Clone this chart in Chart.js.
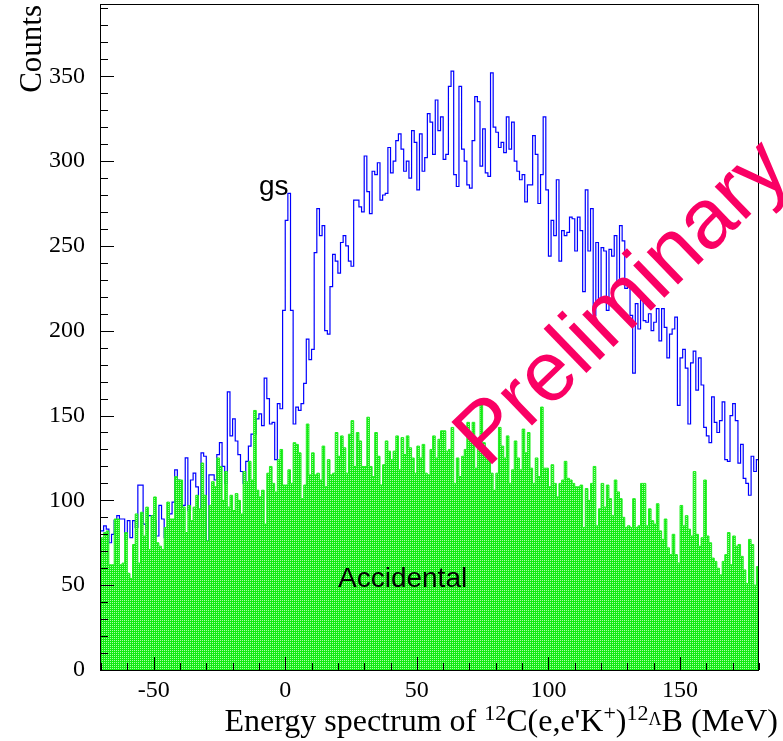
<!DOCTYPE html>
<html><head><meta charset="utf-8">
<style>html,body{margin:0;padding:0;background:#fff;overflow:hidden}canvas{display:block}</style>
<script src="https://cdn.jsdelivr.net/npm/chart.js@4.4.0/dist/chart.umd.min.js"></script>
</head><body>
<canvas id="c" width="783" height="741"></canvas>
<script>
// ---- data (1 MeV bins, low edges from -70 MeV) ----
const energyStart = -70;
const energyEnd = 180;
const binWidth = 1;
const totalCounts = [
 82, 85, 83, 75, 80, 88, 91, 89, 89, 77, 88, 78, 88, 84, 109, 109, 86, 83, 91, 91, 88, 79, 97, 89, 78, 70, 92, 99, 118, 112, 87, 97, 125, 94, 112, 116, 108, 85, 128, 126, 76, 115,
 115, 112, 127, 134, 120, 110, 164, 138, 148, 135, 127, 117, 110, 123, 132, 139, 139, 148, 151, 144, 172, 160, 145, 146, 124, 157, 154, 212, 265, 281, 212, 145, 155, 153, 157, 169, 195, 183, 189, 246, 272, 256,
 262, 200, 198, 226, 245, 241, 234, 252, 256, 250, 241, 238, 277, 277, 273, 270, 303, 282, 269, 294, 292, 299, 277, 280, 281, 308, 293, 300, 312, 316, 307, 294, 300, 290, 318, 311, 283, 316, 294, 302, 328, 323,
 304, 336, 318, 326, 301, 304, 344, 353, 292, 285, 344, 307, 300, 286, 284, 312, 338, 335, 297, 319, 293, 291, 352, 320, 317, 308, 311, 305, 326, 307, 323, 300, 294, 289, 292, 276, 286, 286, 315, 304, 275,
 292, 326, 283, 244, 265, 256, 289, 241, 259, 256, 258, 267, 266, 247, 267, 259, 223, 283, 247, 272, 209, 252, 218, 249, 247, 212, 248, 244, 256, 228, 262, 253, 225, 229, 209, 175, 216, 201, 221, 206, 205,
 210, 200,
 205, 213, 194, 213, 202, 184, 198, 201, 208, 156, 184, 189, 178, 145, 181, 188, 165, 184, 168, 143, 138, 134, 161, 146, 140, 147, 158, 124, 123, 150, 157, 147, 122, 133, 113, 110, 103, 126, 117, 124
];
const accidentalCounts = [
 78, 81, 82, 62, 62, 89, 89, 62, 63, 81, 57, 54, 74, 92, 63, 93, 79, 96, 71, 91, 102, 75, 73, 71, 84, 99, 89, 89, 114, 112, 112, 96, 81, 97, 88, 96, 103, 95, 122, 103, 76, 97,
 111, 108, 125, 120, 100, 117, 96, 103, 94, 104, 100, 92, 117, 111, 123, 112, 153, 106, 102, 106, 86, 116, 120, 110, 105, 124, 130, 109, 109, 118, 110, 134, 133, 128, 101, 109, 145, 115, 128, 115, 116, 112,
 132, 108, 124, 115, 116, 140, 126, 138, 131, 116, 139, 147, 120, 140, 135, 120, 120, 149, 120, 114, 140, 126, 109, 121, 135, 129, 124, 129, 138, 118, 137, 127, 138, 131, 125, 116, 132, 125, 133, 116, 115, 130,
 138, 125, 136, 141, 141, 129, 130, 143, 110, 125, 114, 126, 130, 146, 136, 146, 119, 136, 159, 134, 130, 126, 116, 106, 116, 143, 132, 125, 138, 110, 118, 135, 125, 118, 142, 128, 140, 119, 110, 125, 114,
 155, 119, 119, 108, 121, 110, 102, 110, 112, 123, 113, 112, 110, 108, 108, 109, 84, 107, 100, 110, 120, 85, 95, 110, 96, 109, 101, 91, 112, 105, 101, 90, 84, 85, 84, 101, 84, 85, 110, 110, 85,
 95, 88,
 86, 98, 82, 77, 89, 72, 68, 80, 68, 63, 97, 85, 91, 83, 79, 117, 80, 73, 78, 112, 79, 75, 66, 64, 60, 56, 64, 68, 81, 62, 79, 73, 74, 67, 59, 51, 77, 74, 50, 61
];
const xTickLabels = [-50, 0, 50, 100, 150];
const yTickLabels = [0, 50, 100, 150, 200, 250, 300, 350];
const yMax = 392;

// ---- build step-histogram point lists ----
function histPoints(vals, closeToZero) {
  const pts = vals.map((v, i) => ({x: energyStart + i * binWidth, y: v}));
  pts.push({x: energyEnd, y: vals[vals.length - 1]});
  if (closeToZero) pts.push({x: energyEnd, y: 0});
  return pts;
}

// green dotted fill pattern
const pc = document.createElement('canvas'); pc.width = 2; pc.height = 2;
const pg = pc.getContext('2d');
pg.fillStyle = '#14ea14'; pg.fillRect(0, 0, 2, 2);
pg.fillStyle = '#a8ffa8'; pg.fillRect(0, 0, 1, 1);
const canvas = document.getElementById('c');
const ctx0 = canvas.getContext('2d');
const greenPattern = ctx0.createPattern(pc, 'repeat');

const serif = '"Liberation Serif", "Times New Roman", serif';
const sans = '"Liberation Sans", Arial, sans-serif';

function noPad(s) { s.paddingTop = 0; s.paddingBottom = 0; s.paddingLeft = 0; s.paddingRight = 0; }

const deco = {
  id: 'deco',
  afterDatasetsDraw(chart) {
    const {ctx, chartArea: a, scales: {x, y}} = chart;
    ctx.save();
    ctx.strokeStyle = '#000'; ctx.lineWidth = 1;
    ctx.beginPath();
    for (let v = energyStart; v <= energyEnd; v += 10) {
      const px = Math.round(x.getPixelForValue(v)) + 0.5;
      const len = (v % 50 === 0) ? 13 : 7;
      ctx.moveTo(px, a.bottom); ctx.lineTo(px, a.bottom - len);
    }
    for (let v = 0; v <= yMax; v += 10) {
      const py = Math.round(y.getPixelForValue(v)) + 0.5;
      const len = (v % 50 === 0) ? 13 : 7;
      ctx.moveTo(a.left, py); ctx.lineTo(a.left + len, py);
    }
    ctx.stroke();
    ctx.strokeRect(Math.round(a.left) - 0.5, Math.round(a.top) - 0.5, Math.round(a.right - a.left), Math.round(a.bottom - a.top) + 1);

    // annotations
    ctx.fillStyle = '#000';
    ctx.font = '28px ' + sans;
    ctx.textAlign = 'left'; ctx.textBaseline = 'alphabetic';
    ctx.fillText('gs', 259, 195);
    ctx.fillText('Accidental', 338, 587);

    // axis titles
    ctx.font = '31px ' + serif;
    ctx.save();
    ctx.translate(41, 5); ctx.rotate(-Math.PI / 2);
    ctx.textAlign = 'right';
    ctx.fillText('Counts', 0, 0);
    ctx.restore();

    const parts = [
      {t: 'Energy spectrum of ', s: 32, dy: 0},
      {t: '12', s: 22, dy: -11},
      {t: "C(e,e'K", s: 32, dy: 0},
      {t: '+', s: 22, dy: -11},
      {t: ')', s: 32, dy: 0},
      {t: '12', s: 22, dy: -11},
      {t: 'Λ', s: 18, dy: -6},
      {t: 'B (MeV)', s: 32, dy: 0}
    ];
    let total = 0;
    parts.forEach(p => { ctx.font = p.s + 'px ' + serif; p.w = ctx.measureText(p.t).width; total += p.w; });
    let cx = 778 - total;
    ctx.textAlign = 'left';
    parts.forEach(p => { ctx.font = p.s + 'px ' + serif; ctx.fillText(p.t, cx, 731 + p.dy); cx += p.w; });

    // Preliminary stamp
    ctx.save();
    ctx.translate(487, 469); ctx.rotate(-44 * Math.PI / 180);
    ctx.font = '85px ' + sans;
    ctx.fillStyle = '#fa0064';
    ctx.fillText('Preliminary', 0, 0);
    ctx.restore();
    ctx.restore();
  }
};

new Chart(canvas, {
  type: 'line',
  data: {
    datasets: [
      {
        label: 'Accidental',
        data: histPoints(accidentalCounts, false),
        stepped: 'before',
        borderColor: '#20ee20',
        borderWidth: 1,
        backgroundColor: greenPattern,
        fill: 'origin',
        pointRadius: 0,
        tension: 0
      },
      {
        label: 'Total',
        data: histPoints(totalCounts, true),
        stepped: 'before',
        borderColor: '#0000ff',
        borderWidth: 1.2,
        fill: false,
        pointRadius: 0,
        tension: 0
      }
    ]
  },
  options: {
    responsive: false,
    animation: false,
    devicePixelRatio: 1,
    events: [],
    layout: {padding: {left: 0, right: 24, top: 5, bottom: 0}},
    plugins: {legend: {display: false}, tooltip: {enabled: false}, title: {display: false}},
    scales: {
      x: {
        type: 'linear', min: energyStart, max: energyEnd,
        grid: {display: false, drawTicks: false}, border: {display: false},
        afterBuildTicks(s) { s.ticks = xTickLabels.map(v => ({value: v})); },
        afterFit(s) { s.height = 71; noPad(s); },
        ticks: {autoSkip: false, maxRotation: 0, padding: 6, color: '#000',
                font: {family: serif, size: 24}, callback: v => String(v)}
      },
      y: {
        type: 'linear', min: 0, max: yMax,
        grid: {display: false, drawTicks: false}, border: {display: false},
        afterBuildTicks(s) { s.ticks = yTickLabels.map(v => ({value: v})); },
        afterFit(s) { s.width = 101; noPad(s); },
        ticks: {autoSkip: false, padding: 16, color: '#000',
                font: {family: serif, size: 24}, callback: v => String(v)}
      }
    }
  },
  plugins: [deco]
});
</script>
</body></html>
